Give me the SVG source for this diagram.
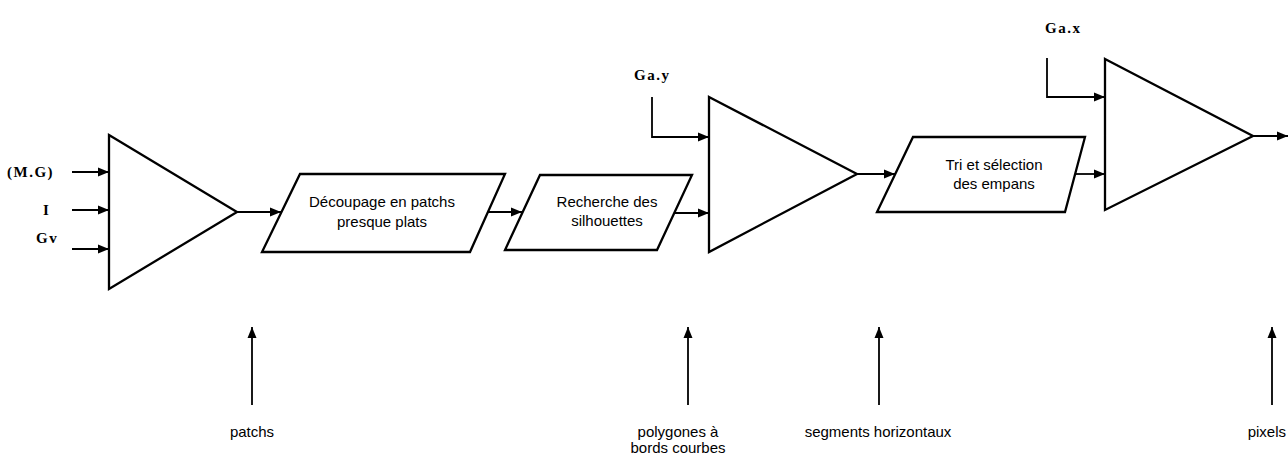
<svg xmlns="http://www.w3.org/2000/svg" width="1288" height="456" viewBox="0 0 1288 456">
<style>
.shape{fill:#fff;stroke:#000;stroke-width:2.3;stroke-linejoin:miter}
.conn{fill:none;stroke:#000;stroke-width:1.8}
.lbl{font-family:"Liberation Sans",Arial,sans-serif;font-size:15px;fill:#000;text-anchor:middle}
.out{font-size:15px}
.sym{font-family:"Liberation Serif","Times New Roman",serif;font-size:15px;font-weight:bold;fill:#000;letter-spacing:1.5px}
</style>
<defs>
<marker id="ah" markerWidth="12" markerHeight="10" refX="11" refY="5" orient="auto" markerUnits="userSpaceOnUse">
<path d="M0,0.5 L11,5 L0,9.5 Z" fill="#000"/>
</marker>
</defs>
<rect width="1288" height="456" fill="#fff"/>

<g id="connectors">
<line class="conn" x1="72" y1="172" x2="109" y2="172" marker-end="url(#ah)"/>
<line class="conn" x1="72" y1="210" x2="109" y2="210" marker-end="url(#ah)"/>
<line class="conn" x1="72" y1="249" x2="109" y2="249" marker-end="url(#ah)"/>
<line class="conn" x1="237" y1="212" x2="281" y2="212" marker-end="url(#ah)"/>
<line class="conn" x1="488" y1="212" x2="522" y2="212" marker-end="url(#ah)"/>
<line class="conn" x1="674" y1="213" x2="709" y2="213" marker-end="url(#ah)"/>
<polyline class="conn" points="652,97 652,137 709,137" marker-end="url(#ah)"/>
<line class="conn" x1="857" y1="174" x2="895" y2="174" marker-end="url(#ah)"/>
<line class="conn" x1="1074" y1="174" x2="1105" y2="174" marker-end="url(#ah)"/>
<polyline class="conn" points="1047,58 1047,97 1105,97" marker-end="url(#ah)"/>
<line class="conn" x1="1253" y1="136" x2="1288" y2="136" marker-end="url(#ah)"/>
<line class="conn" x1="252" y1="405" x2="252" y2="327" marker-end="url(#ah)"/>
<line class="conn" x1="688" y1="405" x2="688" y2="327" marker-end="url(#ah)"/>
<line class="conn" x1="879" y1="405" x2="879" y2="327" marker-end="url(#ah)"/>
<line class="conn" x1="1272" y1="405" x2="1272" y2="327" marker-end="url(#ah)"/>
</g>

<g id="tri1"><polygon class="shape" points="109,135 237,212 109,289"/></g>
<g id="para1">
<polygon class="shape" points="300,174 505,174 470,252 262,252"/>
<text class="lbl" x="382" y="207">Découpage en patchs</text>
<text class="lbl" x="382" y="227">presque plats</text>
</g>
<g id="para2">
<polygon class="shape" points="540,175 692,175 657,250 505,250"/>
<text class="lbl" x="607" y="207">Recherche des</text>
<text class="lbl" x="607" y="226">silhouettes</text>
</g>
<g id="tri2"><polygon class="shape" points="709,97 857,174 709,252"/></g>
<g id="para3">
<polygon class="shape" points="913,137 1085,137 1065,212 877,212"/>
<text class="lbl" x="994" y="170">Tri et sélection</text>
<text class="lbl" x="994" y="189">des empans</text>
</g>
<g id="tri3"><polygon class="shape" points="1105,59 1253,136 1105,210"/></g>

<g id="inputs">
<text class="sym" x="7" y="177">(M.G)</text>
<text class="sym" x="43" y="215">I</text>
<text class="sym" x="36" y="243">Gv</text>
<text class="sym" x="634" y="80">Ga.y</text>
<text class="sym" x="1045" y="33">Ga.x</text>
</g>

<g id="outputs">
<text class="lbl out" x="252" y="437">patchs</text>
<text class="lbl out" x="678" y="437">polygones à</text>
<text class="lbl out" x="678" y="453">bords courbes</text>
<text class="lbl out" x="878" y="437">segments horizontaux</text>
<text class="lbl out" x="1286" y="437" style="text-anchor:end">pixels</text>
</g>
</svg>
